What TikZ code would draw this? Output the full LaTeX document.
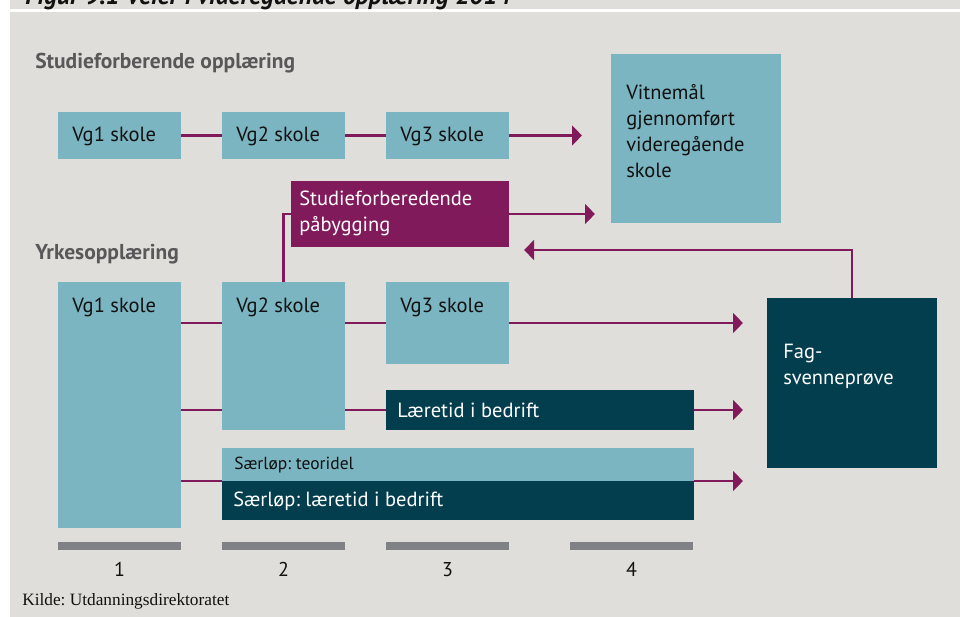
\documentclass[tikz,border=0pt]{standalone}
\usepackage{fontspec}
\setmainfont{PT Sans}
\newfontfamily\sourcefont{Liberation Serif}
\usetikzlibrary{arrows.meta}
\frenchspacing
\newlength\px
\setlength\px{0.75pt}
\definecolor{panel}{HTML}{DFDEDA}
\definecolor{tealL}{HTML}{7BB5C1}
\definecolor{tealD}{HTML}{033E4E}
\definecolor{plum}{HTML}{811A5B}
\definecolor{barg}{HTML}{808184}
\definecolor{headg}{HTML}{58585A}
\definecolor{ink}{HTML}{111111}
\tikzset{
  box/.style={rectangle, inner sep=0pt, outer sep=0pt, anchor=north west},
  light/.style={box, fill=tealL},
  dark/.style={box, fill=tealD},
  purple/.style={box, fill=plum},
  bar/.style={box, fill=barg, minimum width=123\px, minimum height=8\px},
  lbl/.style={anchor=base west, inner sep=0pt, font=\fontsize{20.5\px}{26\px}\selectfont, text=ink, align=left},
  wlbl/.style={lbl, text=white},
  head/.style={anchor=base west, inner sep=0pt, font=\fontsize{21.5\px}{26\px}\selectfont\bfseries, text=headg},
  link/.style={draw=plum, line width=1.95pt},
  arr/.style={link, -{Triangle[length=7.5pt, width=14.6pt]}},
  num/.style={anchor=base, inner sep=0pt, font=\fontsize{20\px}{26\px}\selectfont, text=ink}
}
\begin{document}
\begin{tikzpicture}[x=0.75pt, y=-0.75pt]
\useasboundingbox (0,0) rectangle (960,617);
% background panel with white rule under the heading strip
\fill[panel] (10,0) rectangle (960,617);
\fill[white] (10,9.5) rectangle (960,11.8);
\begin{scope}
  \clip (10,0) rectangle (960,9.5);
  \node[anchor=base west, inner sep=0pt, font=\fontsize{25.5\px}{28\px}\selectfont\bfseries\itshape, text=ink] (title) at (25,5) {Figur 9.1 Veier i videregående opplæring 2014};
\end{scope}

% section headings
\node[head] (hstud) at (35,69) {Studieforberende opplæring};
\node[head] (hyrke) at (35,259) {Yrkesopplæring};

% upper row: general studies
\node[light, minimum width=123\px, minimum height=47\px] (s1) at (58,112) {};
\node[light, minimum width=123\px, minimum height=47\px] (s2) at (222,112) {};
\node[light, minimum width=123\px, minimum height=47\px] (s3) at (386,112) {};
\node[lbl] at (72,141.5) {Vg1 skole};
\node[lbl] at (236,141.5) {Vg2 skole};
\node[lbl] at (400,141.5) {Vg3 skole};

\node[light, minimum width=170\px, minimum height=169\px] (vit) at (611,54) {};
\node[lbl] at (626,177) {Vitnemål\\gjennomført\\videregående\\skole};

\node[purple, minimum width=218\px, minimum height=66\px] (pb) at (291,181) {};
\node[wlbl] at (299,231) {Studieforberedende\\påbygging};

% lower block: vocational training
\node[light, minimum width=123\px, minimum height=246\px] (y1) at (58,282) {};
\node[light, minimum width=123\px, minimum height=148\px] (y2) at (222,282) {};
\node[light, minimum width=123\px, minimum height=82\px] (y3) at (386,282) {};
\node[lbl] at (72,312) {Vg1 skole};
\node[lbl] at (236,312) {Vg2 skole};
\node[lbl] at (400,312) {Vg3 skole};

\node[dark, minimum width=308\px, minimum height=40\px] (laer) at (386,390) {};
\node[wlbl] at (397,417) {Læretid i bedrift};

\node[light, minimum width=472\px, minimum height=33\px] (steo) at (222,448) {};
\node[dark, minimum width=472\px, minimum height=39\px] (slaer) at (222,481) {};
\node[lbl, font=\fontsize{17.5\px}{20\px}\selectfont] at (234,469) {Særløp: teoridel};
\node[wlbl] at (233,506) {Særløp: læretid i bedrift};

\node[dark, minimum width=170\px, minimum height=170\px] (fag) at (767,298) {};
\node[wlbl] at (783,384) {Fag-\\svenneprøve};

% free arrow ends
\coordinate (e1) at (582,135.5);
\coordinate (e2) at (595,214);
\coordinate (e3) at (743,323);
\coordinate (e4) at (743,410);
\coordinate (e5) at (743,481);
\coordinate (e6) at (524,250);

% connectors, upper row
\draw[link] (s1) -- (s2);
\draw[link] (s2) -- (s3);
\draw[arr] (s3.east) -- (e1);
\draw[arr] (pb.east) -- (e2);
\draw[link] (y2.north) |- (pb.west);
\draw[arr] (fag.north) |- (e6);

% connectors, lower block
\draw[link] (y1.east |- y3.east) -- (y2.west |- y3.west);
\draw[link] (y2.east |- y3.west) -- (y3.west);
\draw[arr] (y3.east) -- (e3);
\draw[link] (y1.east |- laer.west) -- (y2.west |- laer.west);
\draw[link] (y2.east |- laer.west) -- (laer.west);
\draw[arr] (laer.east) -- (e4);
\draw[link] (y1.east |- slaer.north) -- (slaer.north west);
\draw[arr] (slaer.north east) -- (e5);

% year scale
\node[bar] (b1) at (58,542) {};
\node[bar] (b2) at (222,542) {};
\node[bar] (b3) at (386,542) {};
\node[bar] (b4) at (570,542) {};
\node[num] at (b1.center |- 0,576) {1};
\node[num] at (b2.center |- 0,576) {2};
\node[num] at (b3.center |- 0,576) {3};
\node[num] at (b4.center |- 0,576) {4};

\node[anchor=base west, inner sep=0pt, font=\sourcefont\fontsize{17.3\px}{19\px}\selectfont, text=ink] (src) at (22,605) {Kilde: Utdanningsdirektoratet};
\end{tikzpicture}
\end{document}
